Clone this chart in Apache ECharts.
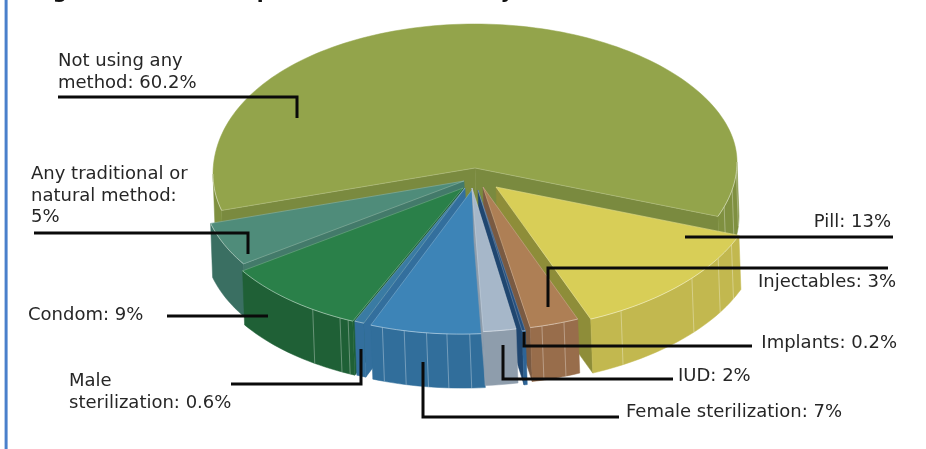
<!DOCTYPE html>
<html>
<head>
<meta charset="utf-8">
<style>html,body{margin:0;padding:0;background:#fff}#chart{width:926px;height:449px}</style>
<script src="https://cdn.jsdelivr.net/npm/echarts@6/dist/echarts.min.js"></script>
</head>
<body>
<div id="chart"></div>
<script>
// Contraceptive method mix, in percent, clockwise from the right-hand side of the pie.
const categories = ['Pill', 'Injectables', 'Implants', 'IUD', 'Female sterilization',
  'Male sterilization', 'Condom', 'Any traditional or natural method', 'Not using any method'];
const values = [13, 3, 0.2, 2, 7, 0.6, 9, 5, 60.2];

// Line-broken forms of the category names for the call-outs.
const labelNames = ['Pill', 'Injectables', 'Implants', 'IUD', 'Female sterilization',
  'Male\nsterilization', 'Condom', 'Any traditional or\nnatural method', 'Not using any\nmethod'];
const labelSeparators = [': ', ': ', ': ', ': ', ': ', ': ', ': ', ':\n', ': '];

// Slice colours.
const topColors  = ['#d8ce57', '#ae7f55', '#255080', '#a6b7c9', '#3d84b7', '#3a7ba3', '#2a8049', '#4f8c7a', '#93a44b'];
const wallColors = ['#c2b84f', '#986d4b', '#2e6496', '#8e9dac', '#316e9b', '#336f9d', '#1f6036', '#3a6f62', '#7f9040'];
const faceColors = ['#8e8d39', '#7a5a42', '#1f4670', '#8e9dac', '#3a7ba3', '#336f9d', '#1f6036', '#437a6a', '#7a8a3f'];

// Exploded offset of every slice from the pie centre, in pixels.
const explodeX = [21, 8, 3, -3, -3, -10, -12, -11, 0];
const explodeY = [10, 10, 13, 11, 13, 11, 11, 4, -9];

// Angles of the faint seams on the outer walls.
const seams = [[26, 32, 41.6, 61.5], [72, 77], [], [], [90.5, 95.5, 100, 105, 110], [], [116, 118, 125], [], [364, 371, 378]];

// Pie projection.
const CX = 475, CY = 177, RX = 262, RY = 144, DEPTH = 54, SKEW = 2, TILT = 6, START_ANGLE = 22;

// Call-out layout: text anchor and leader path for each slice.
const callouts = [
  {x: 891, y: 212, align: 'right', path: [[685, 237], [893, 237]]},
  {x: 896, y: 272, align: 'right', path: [[548, 307], [548, 268], [888, 268]]},
  {x: 897, y: 333, align: 'right', path: [[524, 332], [524, 346], [752, 346]]},
  {x: 678, y: 366, align: 'left',  path: [[503, 345], [503, 379], [673, 379]]},
  {x: 626, y: 402, align: 'left',  path: [[423, 362], [423, 417], [619, 417]]},
  {x: 69,  y: 371, align: 'left',  path: [[231, 384], [361, 384], [361, 349]]},
  {x: 28,  y: 305, align: 'left',  path: [[167, 316], [268, 316]]},
  {x: 31,  y: 164, align: 'left',  path: [[34, 233], [248, 233], [248, 254]]},
  {x: 58,  y: 51,  align: 'left',  path: [[58, 97], [297, 97], [297, 118]]}
];

// Cumulative slice angles derived from the values.
const total = values.reduce((a, b) => a + b, 0);
let running = START_ANGLE;
const slices = values.map((v, i) => {
  const a = running;
  running += v / total * 360;
  return {index: i, a: a, b: running, mid: (a + running) / 2};
});

// Paint far slices first, nearest to the viewer last.
const order = slices.slice().sort((p, q) => {
  const away = s => Math.abs(((s.mid - 90 + 540) % 360) - 180);
  return away(q) - away(p);
});

const rad = d => d * Math.PI / 180;
// Slight tilt of the near half of the rim, fading out toward the back of the pie.
function tiltAt(deg) {
  const sin = Math.sin(rad(deg));
  const fade = sin < 0 ? (1 + sin) * (1 + sin) : 1;
  return TILT * Math.cos(rad(deg)) * fade;
}
function rimPoint(i, deg, low) {
  return [
    CX + explodeX[i] + RX * Math.cos(rad(deg)) + (low ? SKEW : 0),
    CY + explodeY[i] + RY * Math.sin(rad(deg)) - tiltAt(deg) + (low ? DEPTH : 0)
  ];
}
function apexPoint(i, low) {
  return [CX + explodeX[i] + (low ? SKEW : 0), CY + explodeY[i] + (low ? DEPTH : 0)];
}
function arc(i, from, to, low) {
  const n = Math.max(2, Math.ceil(Math.abs(to - from) / 1.5));
  const pts = [];
  for (let k = 0; k <= n; k++) pts.push(rimPoint(i, from + (to - from) * k / n, low));
  return pts;
}
const seamStyle = {stroke: 'rgba(255,255,255,0.32)', lineWidth: 1, fill: null};
const polygon = (points, fill) => ({type: 'polygon', shape: {points}, style: {fill, stroke: fill, lineWidth: 0.5}});
const polyline = (points, style) => ({type: 'polyline', shape: {points}, style});

function renderSlice(params) {
  const s = order[params.dataIndex];
  const i = s.index;
  const children = [];

  // Radial cut faces that turn toward the viewer.
  const cut = deg => polygon([apexPoint(i), rimPoint(i, deg), rimPoint(i, deg, true), apexPoint(i, true)], faceColors[i]);
  if (Math.cos(rad(s.a)) < 0) children.push(cut(s.a));
  if (Math.cos(rad(s.b)) > 0) children.push(cut(s.b));

  // Outer wall, only where the rim is on the near side.
  [[0, 180], [360, 540]].forEach(([lo, hi]) => {
    const from = Math.max(s.a, lo), to = Math.min(s.b, hi);
    if (from >= to) return;
    children.push(polygon(arc(i, from, to).concat(arc(i, to, from, true)), wallColors[i]));
  });
  seams[i].forEach(deg => {
    children.push(polyline([rimPoint(i, deg), rimPoint(i, deg, true)], seamStyle));
  });

  // Top surface with pale edges along the cuts and the near rim.
  children.push(polygon([apexPoint(i)].concat(arc(i, s.a, s.b)), topColors[i]));
  children.push(polyline([rimPoint(i, s.b), apexPoint(i), rimPoint(i, s.a)], {stroke: 'rgba(255,255,255,0.2)', lineWidth: 1, fill: null}));
  [[0, 180], [360, 540]].forEach(([lo, hi]) => {
    const from = Math.max(s.a, lo), to = Math.min(s.b, hi);
    if (from < to) children.push(polyline(arc(i, from, to), {stroke: 'rgba(255,255,255,0.45)', lineWidth: 1, fill: null}));
  });
  return {type: 'group', children};
}

const FONT = '18px "DejaVu Sans"';
const calloutGraphics = [];
callouts.forEach((c, i) => {
  calloutGraphics.push({
    type: 'polyline', z: 20, silent: true,
    shape: {points: c.path},
    style: {stroke: '#0a0a0a', lineWidth: 3, fill: null, lineJoin: 'miter'}
  });
  calloutGraphics.push({
    type: 'text', z: 21, silent: true, x: c.x, y: c.y,
    style: {
      text: labelNames[i] + labelSeparators[i] + values[i] + '%',
      font: FONT, fill: '#262626', lineHeight: 21.5,
      align: c.align, verticalAlign: 'top'
    }
  });
});

// The page rule along the left and the descenders of the heading cut by the top edge.
const pageGraphics = [
  {type: 'rect', z: 5, silent: true, shape: {x: 4.6, y: 0, width: 3, height: 449}, style: {fill: '#4a80cb'}}
];
[['g', 60], ['p', 264], ['y', 507]].forEach(([ch, x]) => {
  pageGraphics.push({
    type: 'text', z: 5, silent: true, x, y: 3,
    style: {text: ch, font: 'bold 20px "DejaVu Sans"', fill: '#111', align: 'center', verticalAlign: 'bottom'}
  });
});

const chart = echarts.init(document.getElementById('chart'), null, {renderer: 'canvas'});
chart.setOption({
  animation: false,
  backgroundColor: '#ffffff',
  graphic: pageGraphics.concat(calloutGraphics),
  series: [{
    type: 'custom',
    coordinateSystem: 'none',
    silent: true,
    renderItem: renderSlice,
    data: order.map(s => ({name: categories[s.index], value: values[s.index]}))
  }]
});
</script>
</body>
</html>
